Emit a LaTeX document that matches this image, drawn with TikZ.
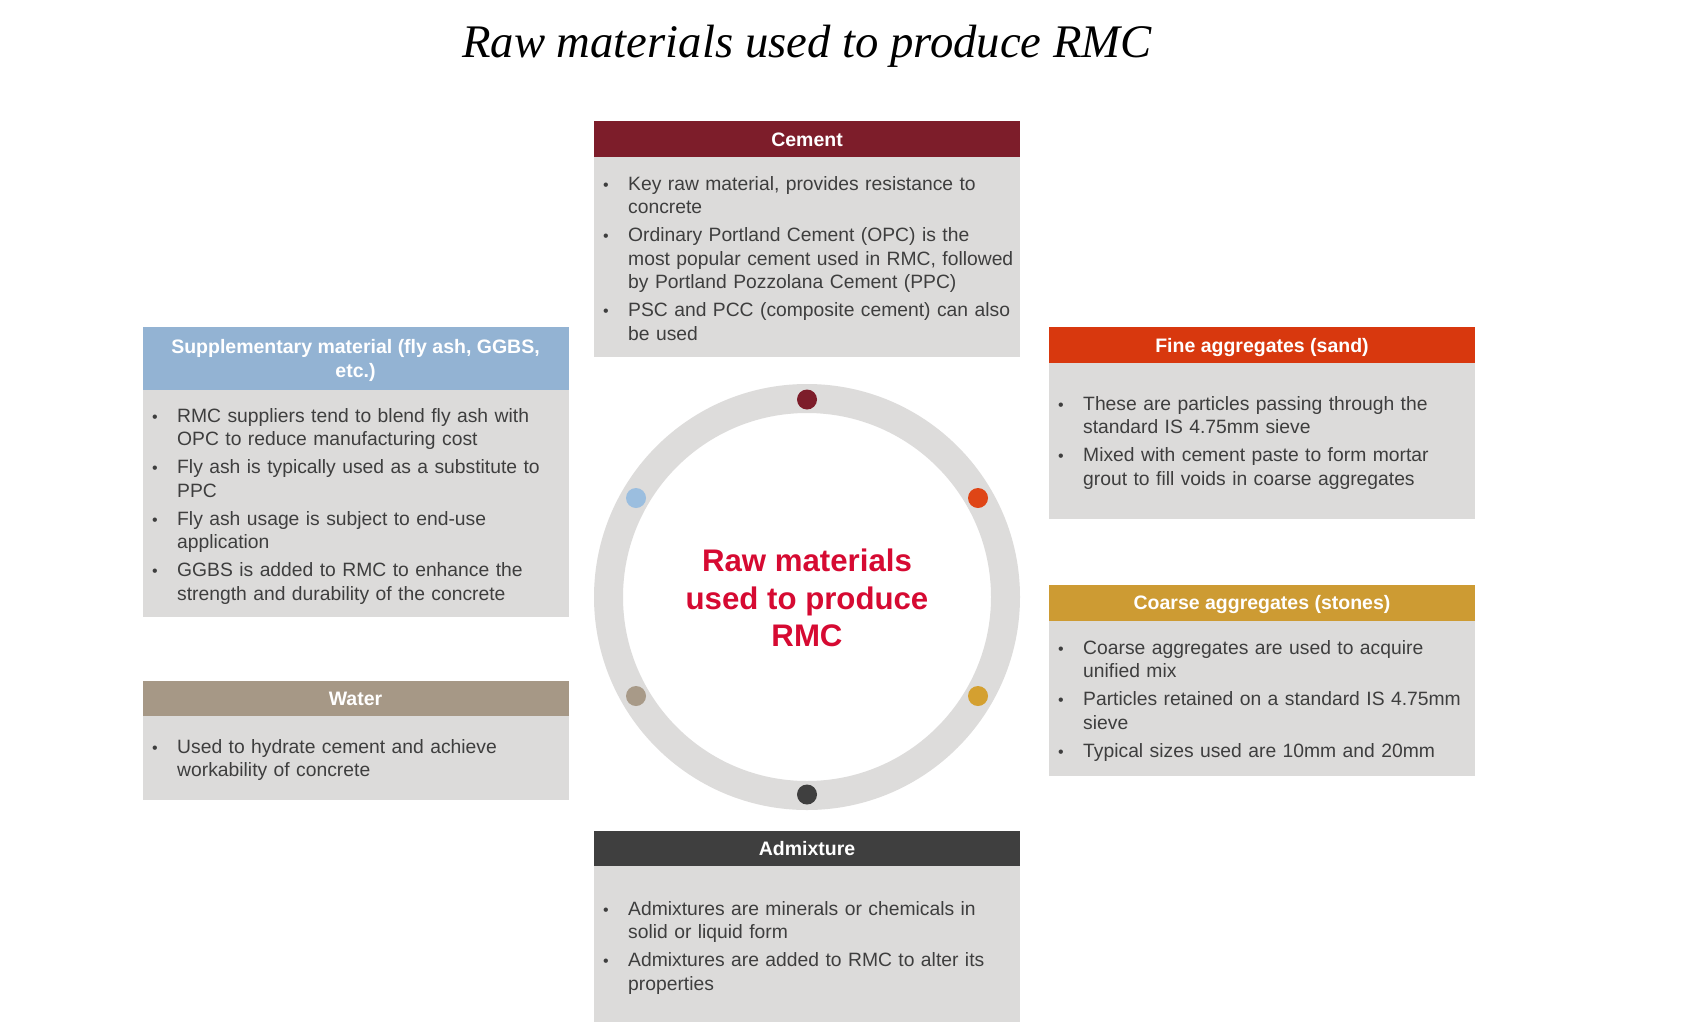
\documentclass[tikz,border=0pt]{standalone}
\usepackage{fontspec}
\setmainfont{Liberation Serif}
\newfontfamily\arialf{Liberation Sans}
\definecolor{cementc}{HTML}{7D1D2A}
\definecolor{suppc}{HTML}{93B3D3}
\definecolor{finec}{HTML}{D8380E}
\definecolor{coarsec}{HTML}{CD9B33}
\definecolor{waterc}{HTML}{A69886}
\definecolor{admixc}{HTML}{3F3F3F}
\definecolor{boxgray}{HTML}{DCDBDA}
\definecolor{ringgray}{HTML}{DDDCDB}
\definecolor{txtgray}{HTML}{3E3E3E}
\definecolor{centerred}{HTML}{D60A32}
\definecolor{suppdot}{HTML}{9BBEDF}
\definecolor{finedot}{HTML}{DF4516}
\definecolor{coarsedot}{HTML}{D4A030}
\definecolor{waterdot}{HTML}{A89A88}
\newcommand\bodyfont{\arialf\fontsize{19.3}{23.5}\selectfont}
\newcommand\hdrfont{\arialf\bfseries\fontsize{19.5}{23.5}\selectfont}
\newcommand\bul{\leavevmode\llap{{\fontsize{16}{16}\selectfont\textbullet}\hspace{19.5pt}}}
\tikzset{
  hdr/.style={rectangle, minimum width=426pt, inner sep=0pt, outer sep=0pt, text=white, font=\hdrfont, align=center},
  hdrone/.style={hdr, minimum height=36pt, text height=16pt, text depth=2pt},
  bodybox/.style={rectangle, fill=boxgray, minimum width=426pt, inner sep=0pt, outer sep=0pt},
  bodytext/.style={anchor=north west, inner sep=0pt, text width=410pt, align=left, font=\bodyfont, text=txtgray},
  dot/.style={circle, minimum size=20pt, inner sep=0pt},
}
\begin{document}
\begin{tikzpicture}[x=1pt,y=-1pt]
\useasboundingbox (0,0) rectangle (1702,1028);
\fill[white] (0,0) rectangle (1702,1028);

% title
\node[anchor=base, inner sep=0pt, font=\itshape\fontsize{46.7}{50}\selectfont] (title) at (807,57) {Raw materials used to produce RMC};

% ring
\draw[ringgray, line width=29pt] (807,597) circle[radius=198.5];
\node[dot, fill=cementc] (dcement) at (807,399.5) {};
\node[dot, fill=finedot] (dfine) at (978,498) {};
\node[dot, fill=coarsedot] (dcoarse) at (978,696) {};
\node[dot, fill=admixc] (dadmix) at (807,794.5) {};
\node[dot, fill=waterdot] (dwater) at (636,696) {};
\node[dot, fill=suppdot] (dsupp) at (636,498) {};
\node[align=center, inner sep=0pt, text=centerred, font=\arialf\bfseries\fontsize{31.2}{37.5}\selectfont] (center) at (807,598) {Raw materials\\used to produce\\RMC};

% Cement
\node[bodybox, minimum height=200pt] (cementB) at (807,257) {};
\node[hdrone, fill=cementc] (cementH) at (807,139) {Cement};
\node[bodytext] (cementT) at (628,173.55) {\strut\bul Key raw material, provides resistance to\\concrete\\[4.5pt]\bul Ordinary Portland Cement (OPC) is the\\most popular cement used in RMC, followed\\by Portland Pozzolana Cement (PPC)\\[4.5pt]\bul PSC and PCC (composite cement) can also\\be used};

% Supplementary
\node[bodybox, minimum height=227pt] (suppB) at (355.5,503.5) {};
\node[hdr, fill=suppc, minimum height=63pt] (suppHbg) at (355.5,358.5) {};
\node[hdr, fill=none] (suppH) at (355.5,360.5) {Supplementary material (fly ash, GGBS,\\etc.)};
\node[bodytext] (suppT) at (177,405.55) {\strut\bul RMC suppliers tend to blend fly ash with\\OPC to reduce manufacturing cost\\[4.5pt]\bul Fly ash is typically used as a substitute to\\PPC\\[4.5pt]\bul Fly ash usage is subject to end-use\\application\\[4.5pt]\bul GGBS is added to RMC to enhance the\\strength and durability of the concrete};

% Fine aggregates
\node[bodybox, minimum height=156pt] (fineB) at (1262,441) {};
\node[hdrone, fill=finec] (fineH) at (1262,345) {Fine aggregates (sand)};
\node[bodytext] (fineT) at (1083,393.55) {\strut\bul These are particles passing through the\\standard IS 4.75mm sieve\\[4.5pt]\bul Mixed with cement paste to form mortar\\grout to fill voids in coarse aggregates};

% Coarse aggregates
\node[bodybox, minimum height=155pt] (coarseB) at (1262,698.5) {};
\node[hdrone, fill=coarsec] (coarseH) at (1262,602.5) {Coarse aggregates (stones)};
\node[bodytext] (coarseT) at (1083,637.55) {\strut\bul Coarse aggregates are used to acquire\\unified mix\\[4.5pt]\bul Particles retained on a standard IS 4.75mm\\sieve\\[4.5pt]\bul Typical sizes used are 10mm and 20mm};

% Water
\node[bodybox, minimum height=84pt] (waterB) at (355.5,758) {};
\node[hdrone, fill=waterc, minimum height=35pt] (waterH) at (355.5,698.5) {Water};
\node[bodytext] (waterT) at (177,736.55) {\strut\bul Used to hydrate cement and achieve\\workability of concrete};

% Admixture
\node[bodybox, minimum height=156pt] (admixB) at (807,944) {};
\node[hdrone, fill=admixc, minimum height=35pt] (admixH) at (807,848.5) {Admixture};
\node[bodytext] (admixT) at (628,898.55) {\strut\bul Admixtures are minerals or chemicals in\\solid or liquid form\\[4.5pt]\bul Admixtures are added to RMC to alter its\\properties};
\end{tikzpicture}
\end{document}
